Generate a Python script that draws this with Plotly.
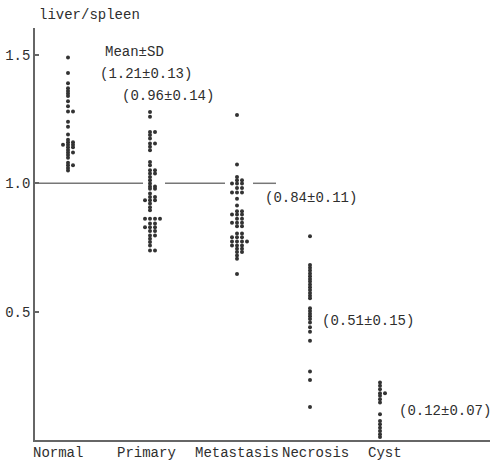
import plotly.graph_objects as go

# ---------------- data ----------------
categories = ["Normal", "Primary", "Metastasis", "Necrosis", "Cyst"]

normal = [1.49, 1.43, 1.39, 1.37, 1.36, 1.35, 1.34, 1.32, 1.30, 1.28, 1.28,
          1.24, 1.22, 1.19, 1.17, 1.16, 1.16, 1.15, 1.15, 1.15, 1.14, 1.14,
          1.13, 1.12, 1.12, 1.11, 1.10, 1.08, 1.07, 1.07, 1.06, 1.05]

primary = [1.278, 1.259, 1.200, 1.200, 1.188, 1.175, 1.155, 1.155, 1.142, 1.129,
           1.083, 1.070, 1.051, 1.051, 1.038, 1.038, 1.025, 1.012, 0.999, 0.988,
           0.988, 0.979, 0.979, 0.960, 0.947, 0.947, 0.934, 0.934, 0.934, 0.921,
           0.907, 0.895, 0.862, 0.862, 0.862, 0.862, 0.843, 0.843, 0.829, 0.829,
           0.829, 0.814, 0.814, 0.797, 0.797, 0.784, 0.771, 0.758, 0.738, 0.738]

metastasis = [1.266, 1.073, 1.025, 1.012, 1.012, 0.999, 0.999, 0.999, 0.982, 0.982,
              0.964, 0.964, 0.964, 0.940, 0.914, 0.891, 0.891, 0.878, 0.878, 0.878,
              0.862, 0.862, 0.846, 0.846, 0.846, 0.833, 0.833, 0.804, 0.804, 0.790,
              0.790, 0.790, 0.773, 0.773, 0.773, 0.773, 0.758, 0.758, 0.758, 0.745,
              0.745, 0.732, 0.732, 0.719, 0.706, 0.647]

necrosis = [0.794, 0.682, 0.671, 0.660, 0.649, 0.638, 0.627, 0.617, 0.606, 0.595,
            0.584, 0.573, 0.562, 0.552, 0.513, 0.503, 0.492, 0.482, 0.471, 0.458,
            0.439, 0.422, 0.387, 0.267, 0.234, 0.129]

cyst = [0.224, 0.211, 0.198, 0.182, 0.182, 0.172, 0.159, 0.146, 0.100, 0.074,
        0.061, 0.048, 0.035, 0.022, 0.012]

mean_sd_labels = ["(1.21±0.13)", "(0.96±0.14)", "(0.84±0.11)",
                  "(0.51±0.15)", "(0.12±0.07)"]
y_tick_values = [0.5, 1.0, 1.5]
y_tick_labels = ["0.5", "1.0", "1.5"]
reference_value = 1.0
y_title = "liver/spleen"
legend_title = "Mean±SD"

# ---------------- layout constants ----------------
groups = [normal, primary, metastasis, necrosis, cyst]
col_center = [33, 115, 202, 275, 345]        # x axis units (0..455)
cat_label_x = [23, 111, 202, 280, 350]
stat_pos = [(63, 1.426), (85, 1.340), (228, 0.941), (285, 0.465), (362, 0.113)]
ref_segments = [(0, 108), (130, 190), (218, 241)]

FONT = "Liberation Mono"
TXT = "#2e2e2e"
DOT = "#333333"
AX = "#666666"


def swarm(values, center, step=5.0):
    pattern = [0, 1, -1, 2, -2, 3, -3]
    seen = {}
    xs = []
    for v in values:
        k = round(v, 4)
        i = seen.get(k, 0)
        seen[k] = i + 1
        xs.append(center + pattern[i % len(pattern)] * step)
    return xs


fig = go.Figure()

# reference line at 1.0 (broken around the dot columns)
rx, ry = [], []
for a, b in ref_segments:
    rx += [a, b, None]
    ry += [reference_value, reference_value, None]
fig.add_trace(go.Scatter(x=rx, y=ry, mode="lines",
                         line=dict(color="#777777", width=1.5),
                         hoverinfo="skip", showlegend=False))

for name, vals, c in zip(categories, groups, col_center):
    fig.add_trace(go.Scatter(
        x=swarm(vals, c), y=vals, mode="markers", name=name,
        marker=dict(size=4, color=DOT, line=dict(width=0)),
        showlegend=False, cliponaxis=False))

annotations = []
for lab, x in zip(categories, cat_label_x):
    annotations.append(dict(x=x, y=0, xref="x", yref="paper", text=lab,
                            showarrow=False, yanchor="top", yshift=-3,
                            font=dict(family=FONT, size=14, color=TXT)))
for lab, (x, y) in zip(mean_sd_labels, stat_pos):
    annotations.append(dict(x=x, y=y, xref="x", yref="y", text=lab,
                            showarrow=False, xanchor="left", yanchor="middle",
                            font=dict(family=FONT, size=14, color=TXT)))
annotations.append(dict(x=68, y=1.512, xref="x", yref="y", text=legend_title,
                        showarrow=False, xanchor="left", yanchor="middle",
                        font=dict(family=FONT, size=14, color=TXT)))
annotations.append(dict(x=2, y=1.0, xref="x", yref="paper", text=y_title,
                        showarrow=False, xanchor="left", yanchor="middle",
                        yshift=13,
                        font=dict(family=FONT, size=14, color=TXT)))

fig.update_layout(
    width=493, height=464,
    margin=dict(l=35, r=3, t=28, b=24),
    paper_bgcolor="white", plot_bgcolor="white",
    annotations=annotations,
    xaxis=dict(range=[0, 455], showgrid=False, zeroline=False,
               showticklabels=False, ticks="", showline=True,
               linecolor=AX, linewidth=1.5, fixedrange=True),
    yaxis=dict(range=[0, 1.605], showgrid=False, zeroline=False,
               tickvals=y_tick_values, ticktext=y_tick_labels,
               ticks="inside", ticklen=4, tickcolor=AX, tickwidth=1.5,
               showline=True, linecolor=AX, linewidth=1.5,
               tickfont=dict(family=FONT, size=14, color=TXT),
               fixedrange=True),
)

fig.write_html("out.html")
